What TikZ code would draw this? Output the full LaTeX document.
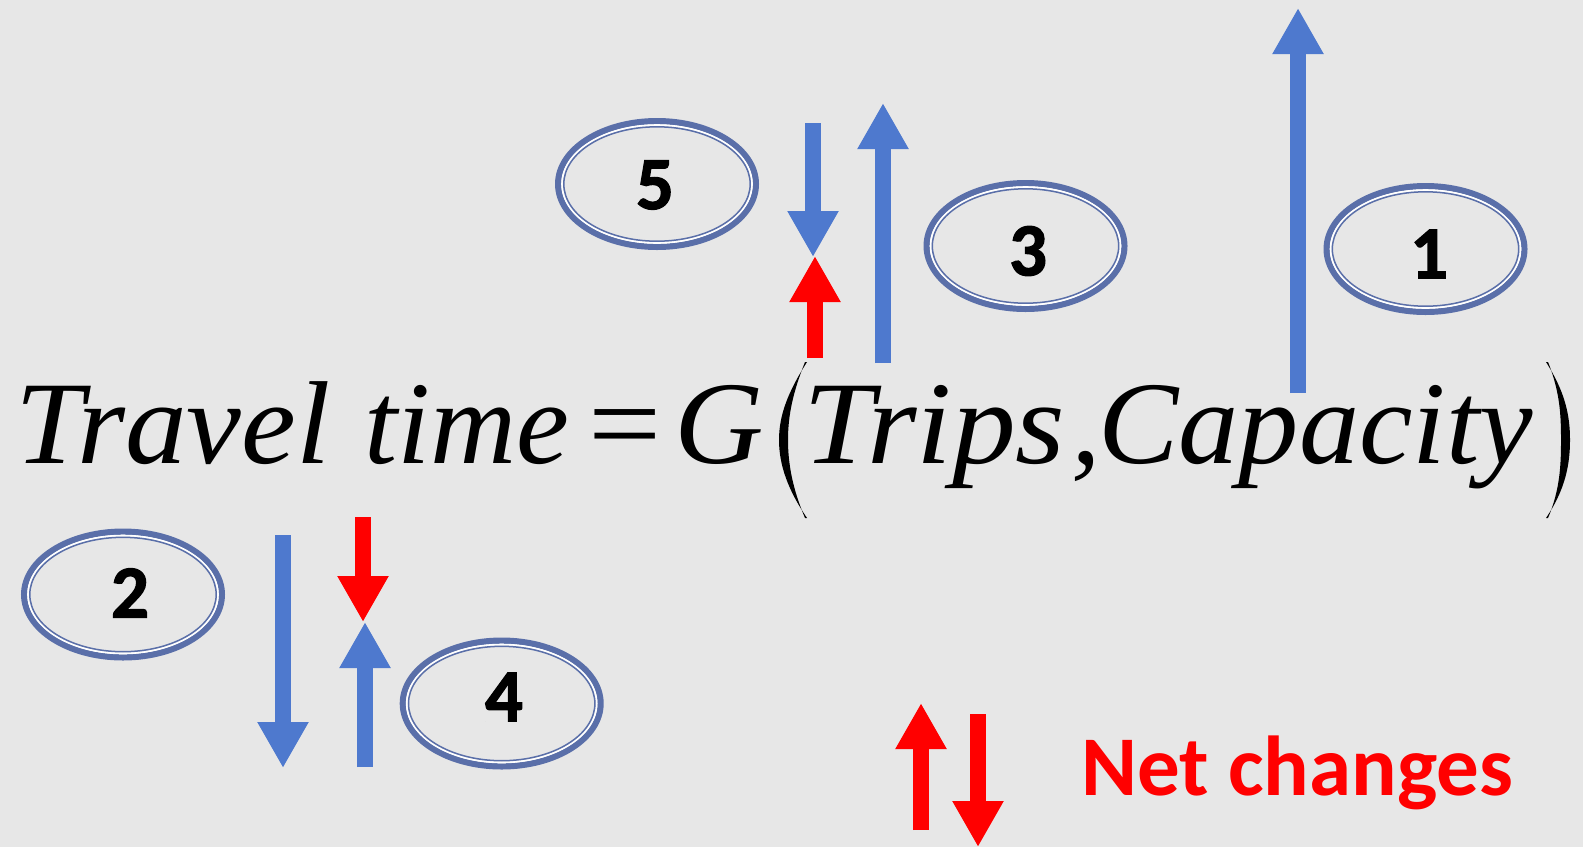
\documentclass[tikz,border=0pt]{standalone}
\usepackage{fontspec}
\setmainfont{Liberation Serif}
\newfontfamily\calib{Carlito}
\newfontfamily\digitfont[FakeBold=1.6]{Carlito Bold}
\usetikzlibrary{arrows.meta}
\definecolor{bg}{HTML}{E7E7E7}
\definecolor{ring}{HTML}{5A6FA9}
\definecolor{flow}{HTML}{4E79CE}
\definecolor{net}{HTML}{FF0000}
\tikzset{
  ringouter/.style={draw=ring, line width=3.1pt},
  ringgap/.style={draw=white, line width=0.9pt},
  ringinner/.style={draw=ring, line width=0.75pt},
  digit/.style={font=\digitfont\fontsize{37.5}{40}\selectfont, inner sep=0pt},
  blockarrow/.style={line width=8pt, -{Triangle[width=24pt,length=23pt]}},
  flowarrow/.style={blockarrow, draw=flow},
  netarrow/.style={blockarrow, draw=net},
  eqn/.style={font=\fontsize{59}{60}\selectfont\itshape, inner sep=0pt, anchor=base west},
  eqrm/.style={font=\fontsize{59}{60}\selectfont, inner sep=0pt, anchor=base},
  paren/.style={fill=black},
}
% ellipse centre, digit position, node name, digit
\newcommand\ringed[4]{%
  \draw[ringouter] #1 ellipse [x radius=98.9, y radius=62.9];
  \draw[ringgap]   #1 ellipse [x radius=94.9, y radius=58.9];
  \draw[ringinner] #1 ellipse [x radius=93.2, y radius=57.2];
  \node[digit] (#3) at #2 {#4};
}
\newcommand\wide[2]{\scalebox{#1}[1]{#2}}
\begin{document}
\begin{tikzpicture}[x=0.5pt, y=-0.5pt]
  \fill[bg] (0,0) rectangle (1583,847);
  \useasboundingbox (0,0) rectangle (1583,847);

  % equation
  \node[eqn] (travel) at (15,463) {\wide{1.045}{Travel}};
  \node[eqn] (time) at (364,463) {\wide{1.01}{time}};
  \node[eqrm] (eq) at (625,463) {\wide{1.1}{=}};
  \node[eqn] (g) at (674,463) {\wide{1.05}{G}};
  \node[eqn] (trips) at (803,463) {\wide{1.08}{Trips}};
  \node[eqn] (comma) at (1071,463) {,};
  \node[eqn] (cap) at (1098,463) {\wide{1.02}{Capacity}};

  % tall parentheses
  \fill[paren] (807,362) .. controls (788,392) and (779,415) .. (779,440)
     .. controls (779,465) and (788,490) .. (807,518)
     -- (805,518) .. controls (793,490) and (788,465) .. (788,440)
     .. controls (788,415) and (793,392) .. (805,362) -- cycle;
  \fill[paren] (1546,362) .. controls (1565,392) and (1570,415) .. (1570,440)
     .. controls (1570,465) and (1565,490) .. (1546,518)
     -- (1548,518) .. controls (1560,490) and (1561,465) .. (1561,440)
     .. controls (1561,415) and (1560,392) .. (1548,362) -- cycle;

  % numbered ellipses
  \ringed{(657,184)}{(655,185)}{n5}{5}
  \ringed{(1025.5,246)}{(1028,251)}{n3}{3}
  \ringed{(1425.5,249)}{(1429,254)}{n1}{1}
  \ringed{(123,594.5)}{(130,593)}{n2}{2}
  \ringed{(501.7,703.5)}{(504,697)}{n4}{4}

  % change arrows above the equation
  \coordinate (a5t) at (813,123);  \coordinate (a5h) at (813,257);
  \coordinate (r1t) at (815,358);  \coordinate (r1h) at (815,256);
  \coordinate (a3t) at (883,363);  \coordinate (a3h) at (883,103);
  \coordinate (a1t) at (1298,393); \coordinate (a1h) at (1298,8);
  \draw[flowarrow] (a5t) -- (a5h);
  \draw[netarrow]  (r1t) -- (r1h);
  \draw[flowarrow] (a3t) -- (a3h);
  \draw[flowarrow] (a1t) -- (a1h);

  % change arrows below the equation
  \coordinate (a2t) at (283,535);  \coordinate (a2h) at (283,768);
  \coordinate (r2t) at (363,517);  \coordinate (r2h) at (363,622);
  \coordinate (a4t) at (365,767);  \coordinate (a4h) at (365,622);
  \draw[flowarrow] (a2t) -- (a2h);
  \draw[netarrow]  (r2t) -- (r2h);
  \draw[flowarrow] (a4t) -- (a4h);

  % legend
  \coordinate (lut) at (921,830); \coordinate (luh) at (921,703);
  \coordinate (ldt) at (978,714); \coordinate (ldh) at (978,847);
  \draw[netarrow] (lut) -- (luh);
  \draw[netarrow] (ldt) -- (ldh);
  \node[font=\calib\bfseries\fontsize{42.5}{44}\selectfont, text=net, inner sep=0pt, anchor=base west]
    (legend) at (1081,795) {Net changes};
\end{tikzpicture}
\end{document}
